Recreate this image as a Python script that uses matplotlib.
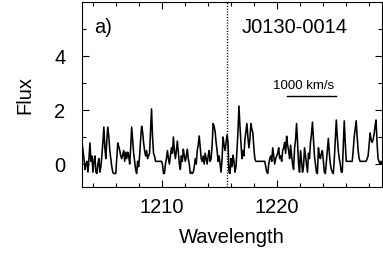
import numpy as np
import matplotlib
matplotlib.use("Agg")
import matplotlib.pyplot as plt

plt.rcParams['font.family'] = ['Liberation Sans', 'DejaVu Sans']

# spectrum flux values (uniform wavelength grid)
flux = [0.8, 0.5, 0.2, -0.2, 0.0, 0.1, -0.3, 0.2, 0.78, 0.1,
        0.3, -0.3, 0.1, 0.3, -0.3, -0.35, 0.0, 0.2, -0.3, -0.1,
        0.3, 0.8, 1.37, 0.6, 0.2, 0.9, 1.37, 1.0, 0.5, 0.2,
        -0.1, -0.3, -0.35, -0.35, -0.35, 0.2, 0.78, 0.65, 0.5, 0.3,
        0.2, 0.35, 0.5, 0.1, 0.44, 0.2, 0.44, 0.3, 0.0, 0.6,
        1.37, 0.9, 0.4, 0.1, -0.2, -0.35, 0.1, -0.1, 0.3, 0.9,
        1.4, 1.2, 0.8, 0.5, 0.3, 0.5, 0.2, 0.3, 0.4, 1.2,
        2.04, 1.0, 0.4, 0.3, 0.1, 0.1, 0.1, 0.1, 0.1, 0.1,
        0.1, 0.0, -0.35, -0.35, 0.0, 0.2, 0.5, 0.2, 0.0, 0.3,
        0.6, 0.4, 1.0, 0.5, 0.2, 0.5, 0.85, 0.4, 0.0, -0.2,
        0.3, 0.1, 0.55, 0.3, 0.1, 0.3, 0.55, 0.2, 0.0, -0.35,
        -0.3, -0.35, -0.3, -0.1, 0.2, 0.0, 0.5, 0.7, 1.04, 0.6,
        0.2, 0.1, 0.3, 0.0, 0.4, 0.2, 0.0, 0.3, 0.5, 0.1,
        0.2, 0.7, 1.5, 1.4, 1.2, 0.8, 0.5, 0.1, 0.3, 0.0,
        -0.3, 0.2, 1.0, 0.7, 0.5, 0.8, 1.07, 0.8, -0.3, -0.35,
        0.2, -0.1, 0.33, 0.1, -0.3, -0.1, 0.5, 1.2, 2.15, 1.4,
        0.8, 0.2, 0.5, 0.3, 0.9, 1.2, 1.5, 1.0, 0.6, 0.9,
        1.5, 1.3, 1.15, 0.6, 0.2, 0.1, 0.1, 0.1, 0.1, 0.1,
        0.1, 0.1, 0.1, 0.1, 0.1, -0.1, -0.3, -0.35, 0.0, 0.2,
        0.3, 0.1, 0.6, 0.3, 0.0, 0.2, 0.3, 0.4, 0.6, 0.2,
        0.3, 0.1, 0.5, 0.6, 0.8, 0.4, 1.03, 0.7, 0.5, 0.2,
        0.7, 0.3, 0.0, -0.2, 0.6, 0.9, 1.5, 0.8, 0.0, -0.3,
        0.5, 0.1, -0.3, -0.1, 0.6, 0.3, 0.0, -0.3, 0.4, 0.2,
        0.8, 1.1, 1.55, 0.9, 0.3, 0.0, -0.3, -0.35, 0.6, 0.3,
        0.2, 0.4, 0.5, 0.1, -0.3, -0.35, 0.1, 0.5, 0.95, 0.4,
        0.0, -0.2, -0.3, -0.35, 0.2, 0.9, 1.63, 1.0, 0.5, 0.2,
        0.0, -0.3, -0.3, 0.6, 1.6, 0.8, 0.1, 0.1, 0.1, 0.1,
        0.1, 0.1, 0.1, 0.5, 1.0, 1.3, 1.6, 1.0, 0.5, 0.2,
        0.1, 0.1, 0.1, 0.1, 0.1, 0.1, 0.1, 0.2, 0.3, 0.7,
        1.15, 0.9, 0.8, 0.9, 1.1, 1.4, 1.63, 0.8, 0.2, 0.1,
        0.0, 0.1, 0.0]
wave_start = 1203.04
wave_end = 1229.13
wave = np.linspace(wave_start, wave_end, len(flux))

lya = 1215.67
scalebar = [1220.87, 1225.13]
scalebar_y = 2.52
scalebar_label = "1000 km/s"
panel_label = "a)"
object_name = "J0130-0014"

W, H = 383, 267
fig = plt.figure(figsize=(W / 100, H / 100), dpi=100)
ax = fig.add_axes([82 / W, (H - 187) / H, 300 / W, 185 / H])

ax.plot(wave, flux, color='black', lw=1.15)
ax.axvline(lya, color='black', lw=1.0, ls=(0, (0.8, 1.2)))
ax.plot(scalebar, [scalebar_y, scalebar_y], color='black', lw=1.0)
ax.text(np.mean(scalebar) - 0.7, scalebar_y + 0.38, scalebar_label,
        ha='center', va='center', fontsize=9.5)
ax.text(1204.1, 5.05, panel_label, ha='left', va='center', fontsize=14.5)
ax.text(1221.57, 5.05, object_name, ha='center', va='center', fontsize=14.5)

ax.set_xlim(wave_start, wave_end)
ax.set_ylim(-0.85, 6.0)
ax.set_xticks([1210, 1220])
ax.set_xticks(np.arange(1204, 1230, 2), minor=True)
ax.set_yticks([0, 2, 4])
ax.set_yticks([1, 3, 5], minor=True)
ax.tick_params(which='both', direction='in', top=True, right=True,
               labelsize=14.5, width=0.8)
ax.tick_params(which='major', length=5)
ax.tick_params(which='minor', length=3)
ax.tick_params(axis='y', pad=12)
ax.tick_params(axis='x', pad=8)
for s in ax.spines.values():
    s.set_linewidth(0.8)

ax.set_xlabel("Wavelength", fontsize=14.5, labelpad=8)
ax.set_ylabel("Flux", fontsize=14.5, labelpad=14)

fig.savefig("out.png", dpi=100)
